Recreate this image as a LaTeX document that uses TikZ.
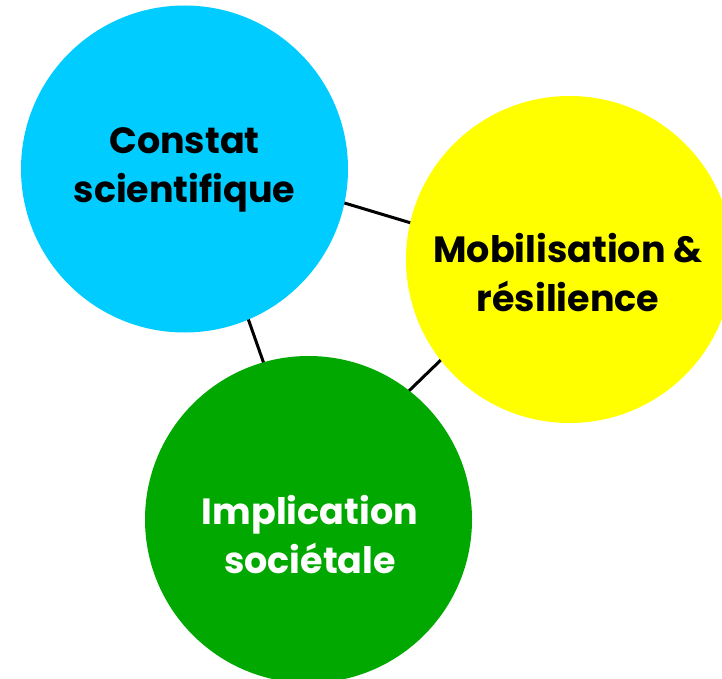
\documentclass[tikz,border=0pt]{standalone}
\usepackage{fontspec}
\setmainfont{Poppins}
\usetikzlibrary{arrows}

\definecolor{constatblue}{RGB}{0,204,255}
\definecolor{mobilyellow}{RGB}{255,255,0}
\definecolor{implgreen}{RGB}{0,168,0}

\begin{document}
\begin{tikzpicture}[x=1pt,y=-1pt]
    \tikzset{
        bubble/.style={circle, inner sep=0pt, outer sep=0pt, minimum size=327pt},
        words/.style={font=\fontsize{36.5}{49}\selectfont\bfseries, align=center},
        line/.style={draw, line width=3pt},
    };
    \useasboundingbox (0,0) rectangle (722,679);
    \node [bubble, fill=constatblue] (constat) at (184.5,169) {};
    \node [bubble, fill=mobilyellow] (mobil) at (569.5,259.5) {};
    \node [bubble, fill=implgreen] (impl) at (308.5,519.5) {};

    \node [words] (constattext) at ([yshift=-1pt]constat) {Constat\\scientifique};
    \node [words] (mobiltext) at ([xshift=-1.5pt,yshift=-13pt]mobil) {Mobilisation \&\\résilience};
    \node [words, text=white] (impltext) at ([xshift=1.5pt,yshift=-15pt]impl) {Implication\\sociétale};

    \path [line] (constat.-12)--(mobil.167);
    \path [line] (constat.-67.5)--(impl.106.7);
    \path [line] (mobil.218)--(impl.52.7);
\end{tikzpicture}
\end{document}
